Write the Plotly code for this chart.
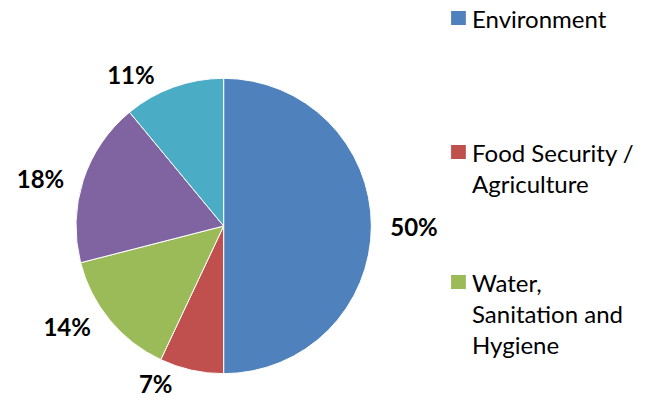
import plotly.graph_objects as go

# slice data, clockwise from 12 o'clock
categories = ["Environment", "Food Security / Agriculture", "Water, Sanitation and Hygiene",
              "Category 4", "Category 5"]
shares = [50, 7, 14, 18, 11]
colors = ["#4F81BD", "#C0504D", "#9BBB59", "#8064A2", "#4BACC6"]

# only the first three entries are visible in the legend
legend_labels = ["Environment", "Food Security /<br>Agriculture", "Water,<br>Sanitation and<br>Hygiene"]

W, H = 648, 416
cx, cy, r = 217, 226, 150

fig = go.Figure(go.Pie(
    labels=categories,
    values=shares,
    sort=False,
    direction="clockwise",
    rotation=0,
    marker=dict(colors=colors, line=dict(color="white", width=1)),
    textposition="outside",
    texttemplate="&nbsp;&nbsp;%{value}%&nbsp;&nbsp;",
    textfont=dict(family="Lato", size=24, color="black", weight="bold"),
    showlegend=False,
    domain=dict(x=[(cx - r) / W, (cx + r) / W], y=[1 - (cy + r) / H, 1 - (cy - r) / H]),
))

# hand-drawn legend (only three entries fit in the original)
legend_y = [18, 152, 282]
for label, col, y in zip(legend_labels, colors, legend_y):
    fig.add_shape(type="rect", xref="paper", yref="paper",
                  x0=448 / W, x1=463 / W, y0=1 - (y + 7) / H, y1=1 - (y - 7) / H,
                  fillcolor=col, line=dict(width=0))
    fig.add_annotation(text=label, xref="paper", yref="paper",
                       x=467 / W, y=1 - (y - 16) / H, xanchor="left", yanchor="top",
                       align="left", showarrow=False,
                       font=dict(family="Lato", size=24, color="black"))

fig.update_layout(
    width=W, height=H,
    margin=dict(l=0, r=0, t=0, b=0),
    paper_bgcolor="white",
    plot_bgcolor="white",
)

pin_div = (
    "document.documentElement.style.margin='0';"
    "document.body.style.margin='0';document.body.style.padding='0';"
    "var d=document.getElementById('{plot_id}');"
    "d.style.position='absolute';d.style.left='0px';d.style.top='0px';"
)
fig.write_html("out.html", config={"displayModeBar": False}, post_script=pin_div)
